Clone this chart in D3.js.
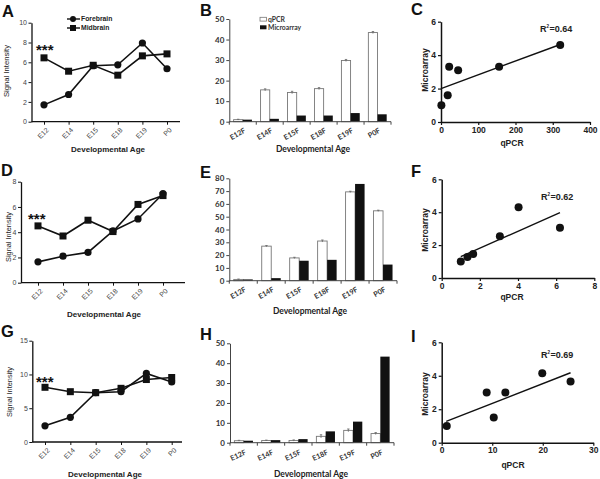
<!DOCTYPE html>
<html><head><meta charset="utf-8">
<script src="https://cdn.jsdelivr.net/npm/d3@7"></script>
<style>body{margin:0;background:#fff}</style>
</head><body>
<script>
// ---------- DATA ----------
const ages = ["E12","E14","E15","E18","E19","P0"];
const agesF = ["E12F","E14F","E15F","E18F","E19F","P0F"];
const seriesNames = ["Forebrain","Midbrain"];
const barNames = ["qPCR","Microarray"];

const forebrainA = [1.7, 2.75, 5.65, 5.75, 7.95, 5.35];
const midbrainA  = [6.45, 5.1, 5.7, 4.7, 6.65, 6.85];
const forebrainD = [1.65, 2.1, 2.4, 4.1, 5.05, 7.05];
const midbrainD  = [4.5, 3.7, 4.95, 4.05, 6.2, 6.9];
const forebrainG = [2.4, 3.65, 7.3, 7.45, 10.15, 8.9];
const midbrainG  = [8.1, 7.45, 7.3, 7.95, 9.25, 9.55];

const qpcrB  = [1, 15.5, 14.2, 16.1, 29.8, 43.4];
const microB = [1, 1.4, 3.0, 3.0, 4.2, 3.6];
const errB   = [0.2, 0.5, 0.6, 0.5, 0.5, 0.5];
const qpcrE  = [1, 27, 17.8, 31, 69.4, 54.6];
const microE = [1, 2, 15.6, 16.3, 75.6, 12.6];
const errE   = [0.3, 0.5, 0.5, 0.8, 0.5, 0.5];
const qpcrH  = [1, 1.1, 1.1, 3.2, 6.2, 4.6];
const microH = [1, 1.3, 1.8, 5.7, 10.6, 43.3];
const errH   = [0.2, 0.2, 0.3, 0.8, 0.7, 0.5];

const qpcrC  = [1, 18, 22, 46, 156, 320];
const microC = [1.0, 1.6, 3.3, 3.1, 3.3, 4.6];
const fitC   = [[0, 2.0], [322, 4.65]];
const qpcrF  = [1.0, 1.35, 1.65, 3.05, 4.03, 6.2];
const microF = [1.0, 1.28, 1.46, 2.54, 4.3, 3.06];
const fitF   = [[1.0, 1.3], [6.2, 3.97]];
const qpcrI  = [1, 8.9, 10.3, 12.6, 19.9, 25.5];
const microI = [1.0, 3.0, 1.5, 3.0, 4.15, 3.65];
const fitI   = [[0.9, 1.27], [25.5, 4.18]];

const ticksA = [0,2,4,6,8,10], ticksD = [0,2,4,6,8], ticksG = [0,5,10,15];
const ticksB = [0,10,20,30,40,50], ticksE = [0,10,20,30,40,50,60,70,80], ticksH = [0,10,20,30,40,50];
const ticksScY = [0,2,4,6];
const ticksCX = [0,100,200,300,400], ticksFX = [0,2,4,6,8], ticksIX = [0,10,20,30];
const r2Labels = ["0.64","0.62","0.69"];

// ---------- DRAW ----------
const ARIAL = "'Liberation Sans', Arial, sans-serif";
const CAL = "Lato, 'Liberation Sans', sans-serif";
const INK = "#111";
const fmt = d3.format("d");
const svg = d3.select("body").append("svg").attr("width",600).attr("height",479).style("display","block");

function letter(t, x, y){
  svg.append("text").attr("x",x).attr("y",y).text(t)
    .attr("font-family",ARIAL).attr("font-weight","bold").attr("font-size",16.5).attr("fill",INK);
}

function linePanel(p){
  const g = svg.append("g");
  const x = d3.scalePoint().domain(ages).range([p.xFirst, p.xLast]);
  const y = d3.scaleLinear().domain([0, p.ymax]).range([p.yBot, p.yTop]);
  const ya = g.append("g").attr("transform",`translate(${p.x0},0)`)
    .call(d3.axisLeft(y).tickValues(p.yticks).tickFormat(fmt).tickSize(3).tickSizeOuter(0).tickPadding(1.5));
  ya.select(".domain").attr("stroke",INK).attr("stroke-width",1.3);
  ya.selectAll(".tick line").attr("stroke",INK);
  ya.selectAll(".tick text").attr("font-family",ARIAL).attr("font-size",7).attr("fill","#444");
  const xa = g.append("g").attr("transform",`translate(0,${p.yBot})`)
    .call(d3.axisBottom(x).tickSize(3).tickSizeOuter(0));
  xa.select(".domain").remove();
  xa.append("line").attr("x1",p.x0).attr("x2",p.xEnd).attr("stroke",INK).attr("stroke-width",1.3);
  xa.selectAll(".tick line").attr("stroke",INK);
  xa.selectAll(".tick text").attr("font-family",ARIAL).attr("font-size",7).attr("fill","#444")
    .attr("x",0).attr("y",0).attr("dy","0.35em").attr("text-anchor","end")
    .attr("transform","translate(3,7) rotate(-45)");
  const line = d3.line().x((d,i)=>x(ages[i])).y(d=>y(d));
  [p.fore, p.mid].forEach(s=>{
    g.append("path").datum(s).attr("d",line).attr("fill","none").attr("stroke",INK).attr("stroke-width",1.6);
  });
  g.selectAll(null).data(p.fore).join("circle")
    .attr("cx",(d,i)=>x(ages[i])).attr("cy",d=>y(d)).attr("r",3.6).attr("fill",INK);
  g.selectAll(null).data(p.mid).join("rect")
    .attr("x",(d,i)=>x(ages[i])-3.5).attr("y",d=>y(d)-3.5).attr("width",7).attr("height",7).attr("fill",INK);
  g.append("text").text("***").attr("x",p.starX).attr("y",p.starY)
    .attr("font-family",ARIAL).attr("font-weight","bold").attr("font-size",15).attr("fill",INK);
  g.append("text").text("Signal Intensity").attr("transform",`translate(${p.ylx},${p.yly}) rotate(-90)`)
    .attr("text-anchor","middle").attr("font-family",ARIAL).attr("font-size",p.ylfs).attr("fill","#222")
    .attr("textLength",p.ylLen).attr("lengthAdjust","spacingAndGlyphs");
  g.append("text").text("Developmental Age").attr("x",p.xlx).attr("y",p.xly)
    .attr("text-anchor","middle").attr("font-family",ARIAL).attr("font-size",8).attr("font-weight","600").attr("fill","#222");
  if (p.legend){
    seriesNames.forEach((n,i)=>{
      const ly = p.legend[1] + i*9;
      g.append("line").attr("x1",p.legend[0]).attr("x2",p.legend[0]+13).attr("y1",ly).attr("y2",ly).attr("stroke",INK).attr("stroke-width",1.4);
      if (i===0) g.append("circle").attr("cx",p.legend[0]+6).attr("cy",ly).attr("r",3).attr("fill",INK);
      else g.append("rect").attr("x",p.legend[0]+3).attr("y",ly-3).attr("width",6).attr("height",6).attr("fill",INK);
      g.append("text").text(n).attr("x",p.legend[0]+14).attr("y",ly+2.4)
        .attr("font-family",ARIAL).attr("font-weight","bold").attr("font-size",6.8).attr("fill","#222");
    });
  }
}

function barPanel(p){
  const g = svg.append("g");
  const x = d3.scaleBand().domain(agesF).range([p.x0, p.xEnd]).paddingInner(0.32).paddingOuter(0.16);
  const sub = d3.scaleBand().domain(barNames).range([0, x.bandwidth()]);
  const y = d3.scaleLinear().domain([0, p.ymax]).range([p.yBot, p.yTop]);
  const ya = g.append("g").attr("transform",`translate(${p.x0},0)`)
    .call(d3.axisLeft(y).tickValues(p.yticks).tickFormat(fmt).tickSize(3).tickSizeOuter(0).tickPadding(2));
  ya.select(".domain").attr("stroke","#444").attr("stroke-width",1);
  ya.selectAll(".tick line").attr("stroke","#444");
  ya.selectAll(".tick text").attr("font-family",CAL).attr("font-weight","bold").attr("font-size",8).attr("fill","#333");
  g.selectAll(null).data(p.q).join("rect")
    .attr("x",(d,i)=>x(agesF[i])+sub("qPCR")).attr("width",sub.bandwidth())
    .attr("y",d=>y(d)).attr("height",d=>y(0)-y(d))
    .attr("fill","#fff").attr("stroke","#777").attr("stroke-width",0.9);
  g.selectAll(null).data(p.m).join("rect")
    .attr("x",(d,i)=>x(agesF[i])+sub("Microarray")).attr("width",sub.bandwidth())
    .attr("y",d=>y(d)).attr("height",d=>y(0)-y(d)).attr("fill",INK);
  p.q.forEach((d,i)=>{
    const cx = x(agesF[i])+sub("qPCR")+sub.bandwidth()/2;
    g.append("line").attr("x1",cx).attr("x2",cx).attr("y1",y(d-p.e[i])).attr("y2",y(d+p.e[i])).attr("stroke","#666").attr("stroke-width",0.8);
    g.append("line").attr("x1",cx-1.2).attr("x2",cx+1.2).attr("y1",y(d+p.e[i])).attr("y2",y(d+p.e[i])).attr("stroke","#666").attr("stroke-width",0.8);
  });
  const xa = g.append("g").attr("transform",`translate(0,${p.yBot})`);
  xa.append("line").attr("x1",p.x0).attr("x2",p.xEnd).attr("stroke","#444").attr("stroke-width",1);
  const bounds = agesF.map(c=>x(c)-x.step()*0.16).concat([p.xEnd]);
  xa.selectAll(null).data(bounds).join("line").attr("x1",d=>d).attr("x2",d=>d).attr("y1",0).attr("y2",3).attr("stroke","#444");
  xa.selectAll(null).data(agesF).join("text").text(d=>d)
    .attr("text-anchor","end").attr("dy","0.35em")
    .attr("transform",d=>`translate(${x(d)+x.bandwidth()/2+2},${p.labDy}) rotate(${p.rot})`)
    .attr("font-family",CAL).attr("font-weight","bold").attr("font-size",7.2).attr("fill","#333");
  g.append("text").text("Developmental Age").attr("x",p.xlx).attr("y",p.xly)
    .attr("text-anchor","middle").attr("font-family",CAL).attr("font-size",8.5).attr("font-weight","bold").attr("fill","#222");
  if (p.legend){
    const [lx, ly] = p.legend;
    g.append("rect").attr("x",lx).attr("y",ly).attr("width",6.5).attr("height",3.8).attr("fill","#fff").attr("stroke","#777").attr("stroke-width",0.8);
    g.append("rect").attr("x",lx).attr("y",ly+8).attr("width",6.5).attr("height",4).attr("fill",INK);
    barNames.forEach((n,i)=>{
      g.append("text").text(n).attr("x",lx+8).attr("y",ly+4.3+i*8)
        .attr("font-family",CAL).attr("font-weight","bold").attr("font-size",6.8).attr("fill","#333");
    });
  }
}

function scatterPanel(p){
  const g = svg.append("g");
  const x = d3.scaleLinear().domain([p.xticks[0], p.xticks[p.xticks.length-1]]).range([p.x0, p.x1]);
  const y = d3.scaleLinear().domain([0,6]).range([p.yBot, p.yTop]);
  const ya = g.append("g").attr("transform",`translate(${p.x0},0)`)
    .call(d3.axisLeft(y).tickValues(ticksScY).tickFormat(fmt).tickSize(3).tickSizeOuter(0).tickPadding(2));
  const xa = g.append("g").attr("transform",`translate(0,${p.yBot})`)
    .call(d3.axisBottom(x).tickValues(p.xticks).tickFormat(fmt).tickSize(3).tickSizeOuter(0).tickPadding(1.5));
  [ya, xa].forEach(a=>{
    a.select(".domain").attr("stroke",INK).attr("stroke-width",1.5);
    a.selectAll(".tick line").attr("stroke",INK).attr("stroke-width",1.2);
    a.selectAll(".tick text").attr("font-family",ARIAL).attr("font-weight","bold").attr("font-size",8.5).attr("fill","#222");
  });
  g.append("line").attr("x1",x(p.fit[0][0])).attr("y1",y(p.fit[0][1]))
    .attr("x2",x(p.fit[1][0])).attr("y2",y(p.fit[1][1])).attr("stroke",INK).attr("stroke-width",1.4);
  g.selectAll(null).data(p.xs).join("circle")
    .attr("cx",d=>x(d)).attr("cy",(d,i)=>y(p.ys[i])).attr("r",4).attr("fill",INK);
  const t = g.append("text").attr("x",p.r2x).attr("y",p.r2y)
    .attr("font-family",ARIAL).attr("font-weight","bold").attr("font-size",9).attr("fill","#222");
  t.append("tspan").text("R");
  t.append("tspan").text("2").attr("font-size",4.5).attr("dy",-4.5);
  t.append("tspan").text("=" + p.r2).attr("dy",4.5).attr("dx",0.5);
  g.append("text").text("qPCR").attr("x",p.xlx).attr("y",p.xly).attr("text-anchor","middle")
    .attr("font-family",ARIAL).attr("font-weight","bold").attr("font-size",8.5).attr("fill","#222");
  g.append("text").text("Microarray").attr("transform",`translate(${p.ylx},${p.yly}) rotate(-90)`)
    .attr("text-anchor","middle").attr("font-family",ARIAL).attr("font-weight","bold").attr("font-size",8.5).attr("fill","#222");
}

// Row 1
linePanel({x0:31.5, xEnd:180, xFirst:44, xLast:167, yBot:121.7, yTop:22.7, ymax:10, yticks:ticksA,
  fore:forebrainA, mid:midbrainA, starX:36, starY:55, ylx:9, yly:71, ylfs:8, ylLen:52,
  xlx:108, xly:152, legend:[67,19]});
barPanel({x0:229.3, xEnd:391, yBot:121.7, yTop:19, ymax:50, yticks:ticksB, q:qpcrB, m:microB, e:errB,
  labDy:8, rot:-30, xlx:313, xly:152, legend:[260,17.3]});
scatterPanel({x0:441, x1:590, yBot:122, yTop:21.7, xticks:ticksCX, xs:qpcrC, ys:microC, fit:fitC,
  r2:r2Labels[0], r2x:540, r2y:32, xlx:512, xly:146, ylx:428, yly:70});

// Row 2
linePanel({x0:21, xEnd:185, xFirst:38, xLast:163, yBot:282.7, yTop:181.7, ymax:8, yticks:ticksD,
  fore:forebrainD, mid:midbrainD, starX:28, starY:224, ylx:11, yly:237, ylfs:7, ylLen:50,
  xlx:104, xly:317});
barPanel({x0:229.3, xEnd:397, yBot:280.7, yTop:178.3, ymax:80, yticks:ticksE, q:qpcrE, m:microE, e:errE,
  labDy:8, rot:-30, xlx:310, xly:314});
scatterPanel({x0:441.7, x1:594.3, yBot:278, yTop:179.3, xticks:ticksFX, xs:qpcrF, ys:microF, fit:fitF,
  r2:r2Labels[1], r2x:541, r2y:200, xlx:512, xly:300, ylx:428, yly:230});

// Row 3
linePanel({x0:32.3, xEnd:182, xFirst:45, xLast:171.7, yBot:442, yTop:340.7, ymax:15, yticks:ticksG,
  fore:forebrainG, mid:midbrainG, starX:36, starY:387, ylx:11.5, yly:392, ylfs:7, ylLen:50,
  xlx:105, xly:477});
barPanel({x0:230, xEnd:394, yBot:442.7, yTop:343.3, ymax:50, yticks:ticksH, q:qpcrH, m:microH, e:errH,
  labDy:9, rot:-25, xlx:311, xly:477});
scatterPanel({x0:441.7, x1:593.3, yBot:442.7, yTop:342.3, xticks:ticksIX, xs:qpcrI, ys:microI, fit:fitI,
  r2:r2Labels[2], r2x:541, r2y:358, xlx:513, xly:468, ylx:428, yly:394});

letter("A",2,17); letter("B",200,16); letter("C",411,15);
letter("D",1,176); letter("E",200,178); letter("F",411,177);
letter("G",1,337); letter("H",200,340); letter("I",411,342);
</script>
</body></html>
